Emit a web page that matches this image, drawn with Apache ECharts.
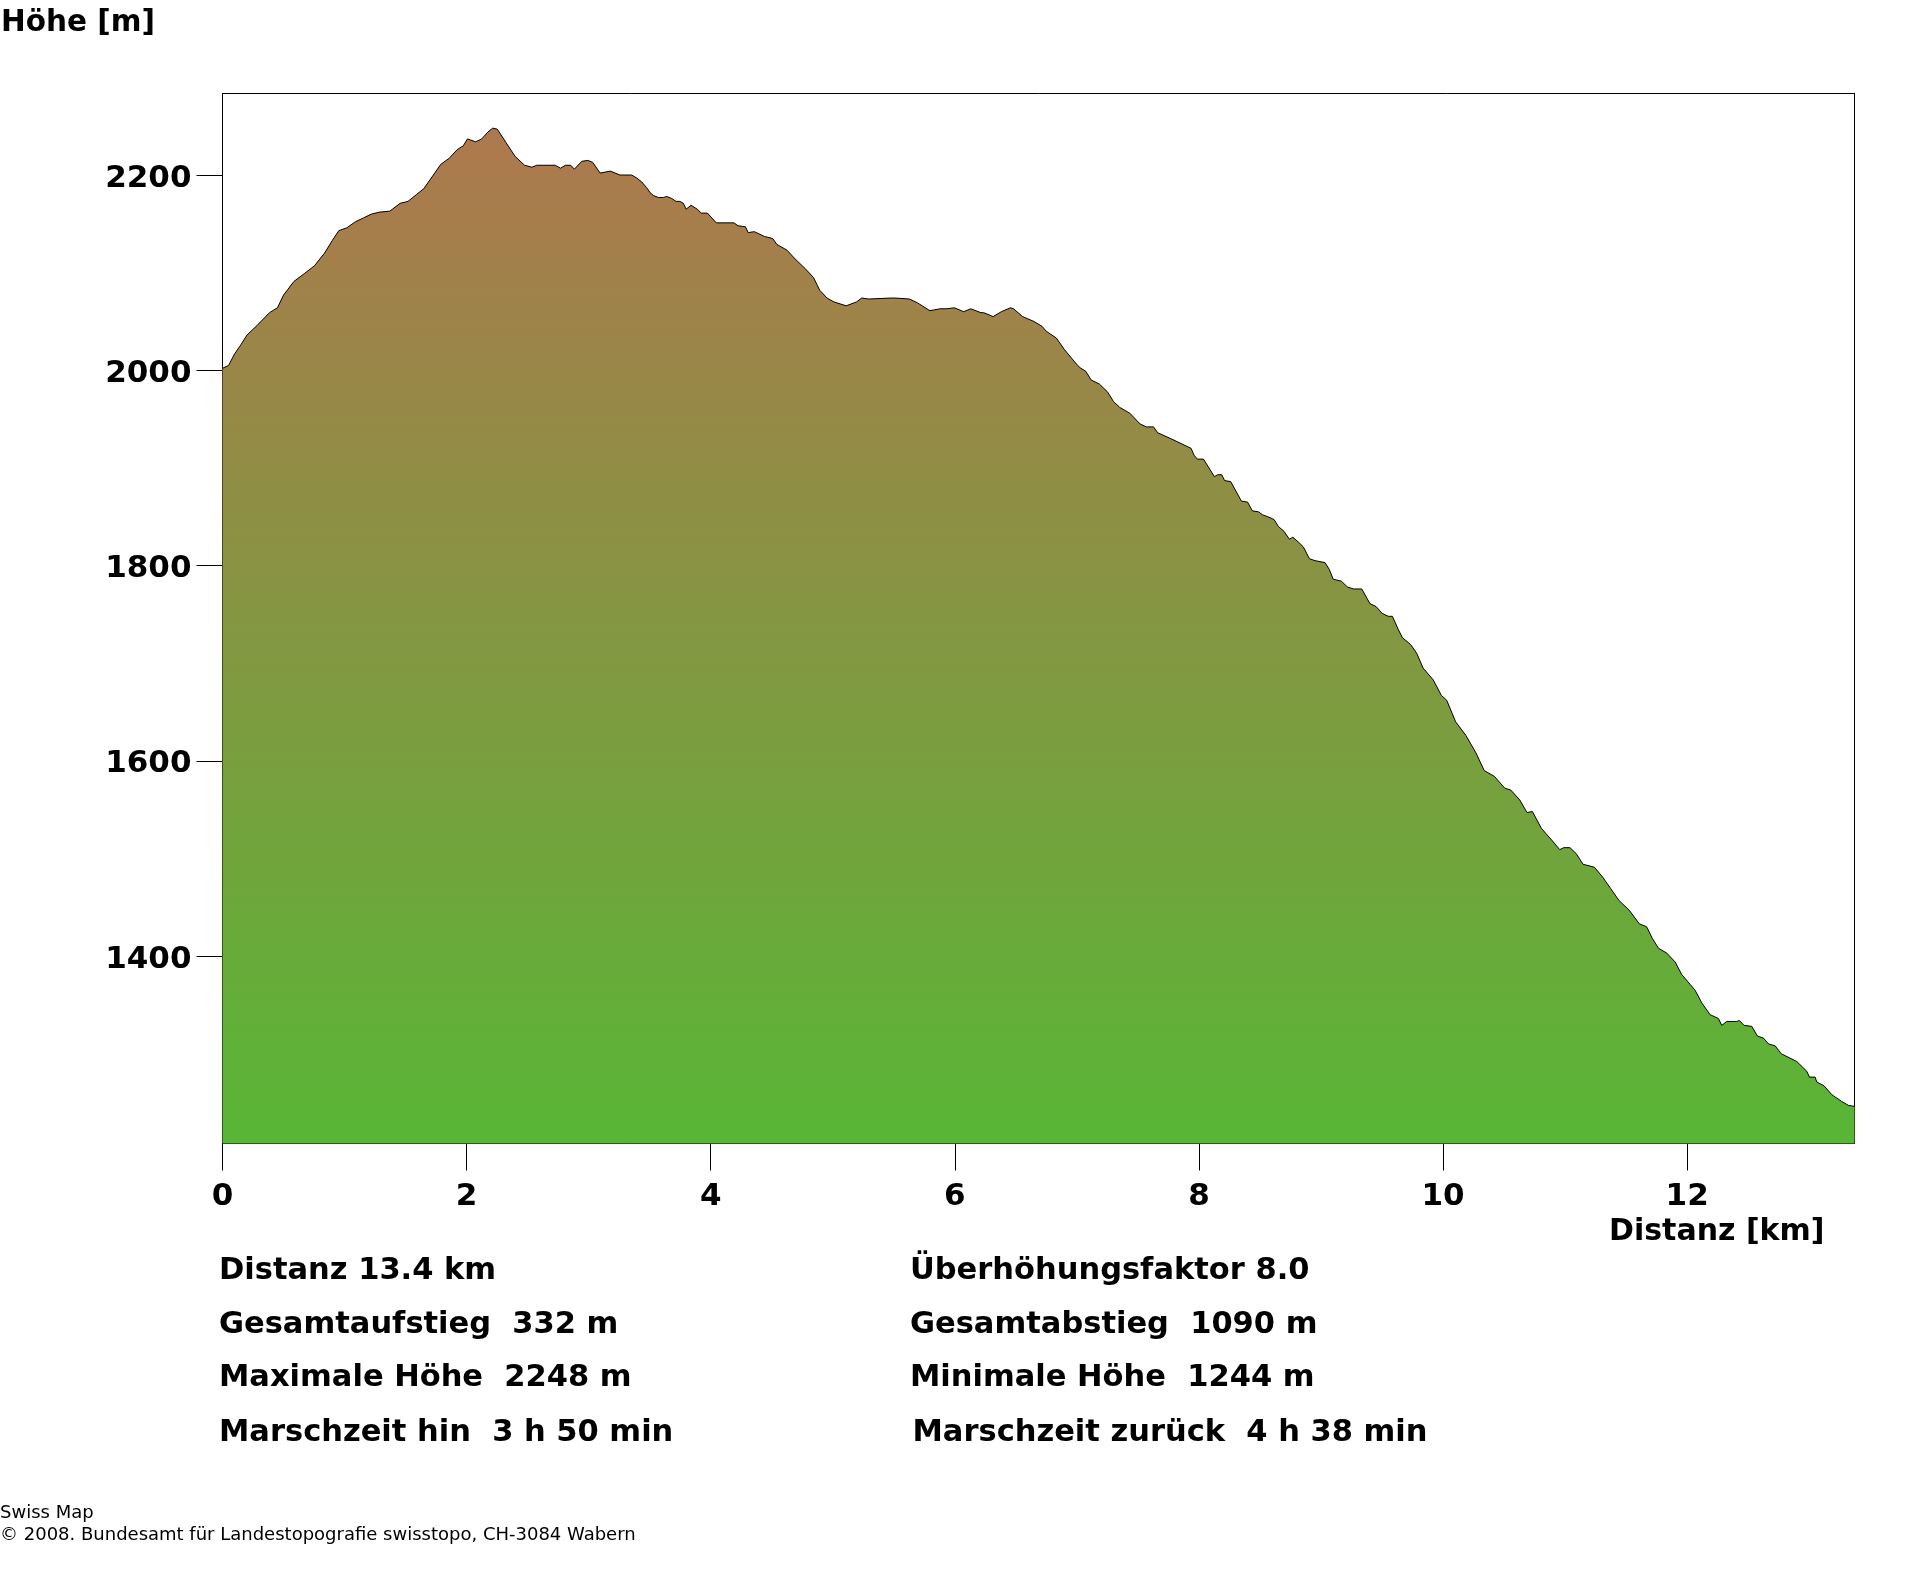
<!DOCTYPE html>
<html>
<head>
<meta charset="utf-8">
<title>Höhenprofil</title>
<script src="https://cdn.jsdelivr.net/npm/echarts@6/dist/echarts.min.js"></script>
<style>
html, body { margin: 0; padding: 0; background: #fff; }
#chart { width: 1920px; height: 1572px; }
</style>
</head>
<body>
<div id="chart"></div>
<script>
const distKm = [0, 0.05, 0.10, 0.15, 0.20, 0.284, 0.385, 0.45, 0.50, 0.585, 0.67, 0.753, 0.836, 0.90, 0.953,
    1.02, 1.087, 1.154, 1.22, 1.288, 1.371, 1.455, 1.52, 1.589, 1.649, 1.722, 1.789, 1.856, 1.923, 1.973,
    2.007, 2.074, 2.124, 2.174, 2.214, 2.251, 2.324, 2.398, 2.475, 2.535, 2.575, 2.726, 2.769, 2.809, 2.853, 2.883, 2.943, 2.993,
    3.033, 3.094, 3.177, 3.257, 3.352, 3.393, 3.434, 3.475, 3.503, 3.53, 3.571, 3.612, 3.639, 3.68, 3.716, 3.748, 3.776, 3.798, 3.839, 3.89, 3.923, 3.973,
    4.046, 4.19, 4.224, 4.284, 4.307, 4.357, 4.441, 4.508, 4.541, 4.625, 4.692, 4.775, 4.842, 4.893, 4.953,
    5.01, 5.11, 5.194, 5.237, 5.294, 5.31, 5.478, 5.511, 5.628, 5.695, 5.796, 5.879, 5.929, 5.996,
    6.073, 6.13, 6.214, 6.237, 6.314, 6.381, 6.455, 6.481, 6.555, 6.648, 6.715, 6.749, 6.832, 6.899,
    7.006, 7.033, 7.073, 7.117, 7.183, 7.25, 7.30, 7.351, 7.434, 7.518, 7.568, 7.628, 7.662, 7.769, 7.853, 7.936, 7.96, 7.987,
    8.037, 8.127, 8.153, 8.187, 8.21, 8.26, 8.348, 8.398, 8.438, 8.488, 8.521, 8.583, 8.616, 8.651, 8.697, 8.741, 8.769, 8.815, 8.856, 8.905, 8.951,
    9.033, 9.068, 9.10, 9.167, 9.217, 9.267, 9.334, 9.401, 9.451, 9.501, 9.551, 9.585, 9.635, 9.668, 9.735, 9.785, 9.836, 9.919, 9.986,
    10.03, 10.103, 10.187, 10.27, 10.337, 10.421, 10.505, 10.555, 10.628, 10.688, 10.732, 10.805, 10.839, 10.889, 10.956, 10.989,
    11.04, 11.09, 11.147, 11.24, 11.307, 11.374, 11.441, 11.525, 11.608, 11.668, 11.715, 11.765, 11.833, 11.901, 11.956,
    12.024, 12.065, 12.12, 12.188, 12.256, 12.284, 12.324, 12.406, 12.428, 12.466, 12.529, 12.576, 12.625, 12.666, 12.721, 12.77, 12.898, 12.98,
    13.002, 13.048, 13.062, 13.122, 13.185, 13.267, 13.322, 13.371];

const heightM = [2002, 2005, 2017, 2026, 2036, 2046, 2059, 2064, 2077, 2091, 2099, 2107, 2120, 2133, 2143,
    2146, 2152, 2156, 2160, 2162, 2163, 2171, 2173, 2180, 2186, 2199, 2211, 2217, 2226, 2230,
    2237, 2234, 2237, 2244, 2248, 2247, 2233, 2219, 2210, 2208, 2210, 2210, 2207, 2210, 2210, 2206, 2214, 2215,
    2213, 2202, 2204, 2200, 2200, 2197, 2193, 2187, 2182, 2179, 2177, 2177, 2178, 2176, 2173, 2173, 2171, 2165, 2169, 2165, 2161, 2161,
    2151, 2151, 2148, 2147, 2141, 2142, 2137, 2135, 2129, 2123, 2114, 2104, 2095, 2082, 2074,
    2070, 2066, 2070, 2074, 2073, 2074, 2074, 2074, 2073, 2069, 2061, 2063, 2063, 2064,
    2060, 2063, 2059, 2059, 2055, 2060, 2064, 2063, 2055, 2050, 2045, 2040, 2033, 2021,
    2005, 2002, 1999, 1990, 1986, 1978, 1968, 1962, 1956, 1945, 1942, 1942, 1936, 1930, 1925, 1920, 1913, 1909,
    1909, 1891, 1893, 1893, 1887, 1886, 1866, 1865, 1856, 1855, 1852, 1849, 1847, 1840, 1835, 1827, 1829, 1824, 1819, 1807, 1805,
    1803, 1796, 1786, 1784, 1778, 1776, 1776, 1761, 1758, 1751, 1748, 1748, 1734, 1726, 1719, 1710, 1695, 1683, 1667,
    1662, 1640, 1626, 1608, 1590, 1584, 1572, 1570, 1560, 1547, 1548, 1531, 1526, 1519, 1509, 1511,
    1511, 1505, 1494, 1491, 1481, 1469, 1457, 1447, 1433, 1430, 1418, 1408, 1403, 1394, 1381,
    1371, 1365, 1352, 1340, 1336, 1329, 1333, 1333, 1334, 1329, 1328, 1318, 1316, 1310, 1308, 1300, 1292, 1282,
    1276, 1276, 1271, 1267, 1258, 1251, 1247, 1246];

const distTicks = [0, 2, 4, 6, 8, 10, 12];
const heightTicks = [1400, 1600, 1800, 2000, 2200];

const infoLeft = ['Distanz 13.4 km', 'Gesamtaufstieg  332 m', 'Maximale Höhe  2248 m', 'Marschzeit hin  3 h 50 min'];
const infoRight = ['Überhöhungsfaktor 8.0', 'Gesamtabstieg  1090 m', 'Minimale Höhe  1244 m', 'Marschzeit zurück  4 h 38 min'];
const footer = ['Swiss Map', '© 2008. Bundesamt für Landestopografie swisstopo, CH-3084 Wabern'];

const infoFont = 'bold 30.5px "DejaVu Sans"';
const titleFont = 'bold 30px "DejaVu Sans"';
const footerFont = '18px "DejaVu Sans"';

// text sits with its top at y, so pull it up by the ascent to hit the baseline
function textItem(text, x, baseline, font, size) {
    return {
        type: 'text',
        x: x,
        y: baseline - size * 0.8,
        silent: true,
        style: { text: text, font: font, fill: '#000', textAlign: 'left' }
    };
}

const rowBaselines = [1280, 1334, 1387.5, 1442];
const graphics = [
    textItem('Höhe [m]', 1, 32, 'bold 29.5px "DejaVu Sans"', 30),
    textItem('Distanz [km]', 1609, 1241, titleFont, 30)
];
infoLeft.forEach(function(line, i) {
    graphics.push(textItem(line, 219, rowBaselines[i], infoFont, 31));
});
infoRight.forEach(function(line, i) {
    graphics.push(textItem(line, i === 3 ? 912.5 : 910, rowBaselines[i], infoFont, 31));
});
graphics.push(textItem(footer[0], 0, 1518.5, footerFont, 18));
graphics.push(textItem(footer[1], 0, 1541, footerFont, 18));

const profile = distKm.map(function(km, i) {
    return [km, heightM[i]];
});

const chart = echarts.init(document.getElementById('chart'), null, { renderer: 'canvas' });
const blackLine = { color: '#000', width: 1 };

chart.setOption({
    animation: false,
    backgroundColor: '#fff',
    grid: { show: true, left: 222.5, top: 93.5, width: 1632, height: 1050, borderColor: '#000', borderWidth: 1, backgroundColor: '#fff' },
    xAxis: {
        type: 'value',
        min: 0,
        max: 13.371,
        splitLine: { show: false },
        axisLine: { show: true, onZero: false, lineStyle: blackLine },
        axisTick: { show: true, length: 27, customValues: distTicks, lineStyle: blackLine },
        axisLabel: { show: true, customValues: distTicks, margin: 38, color: '#000', fontFamily: 'DejaVu Sans', fontWeight: 'bold', fontSize: 31 }
    },
    yAxis: [{
        type: 'value',
        min: 1208,
        max: 2283.5,
        splitLine: { show: false },
        axisLine: { show: true, onZero: false, lineStyle: blackLine },
        axisTick: { show: true, length: 26, customValues: heightTicks, lineStyle: blackLine },
        axisLabel: {
            show: true,
            customValues: heightTicks,
            margin: 31,
            formatter: function(value) { return '{tick|' + value + '}'; },
            rich: {
                tick: { padding: [7, 0, 0, 0], color: '#000', fontFamily: 'DejaVu Sans', fontWeight: 'bold', fontSize: 31 }
            }
        }
    }, {
        type: 'value',
        position: 'right',
        min: 1208,
        max: 2283.5,
        splitLine: { show: false },
        axisLine: { show: true, onZero: false, lineStyle: blackLine },
        axisTick: { show: false },
        axisLabel: { show: false }
    }],
    series: [{
        type: 'line',
        data: profile,
        symbol: 'none',
        silent: true,
        lineStyle: { color: '#000', width: 1 },
        areaStyle: {
            opacity: 1,
            color: new echarts.graphic.LinearGradient(0, 0, 0, 1, [
                { offset: 0, color: '#ae784e' },
                { offset: 1, color: '#58b635' }
            ])
        }
    }],
    graphic: { elements: graphics }
});
</script>
</body>
</html>
